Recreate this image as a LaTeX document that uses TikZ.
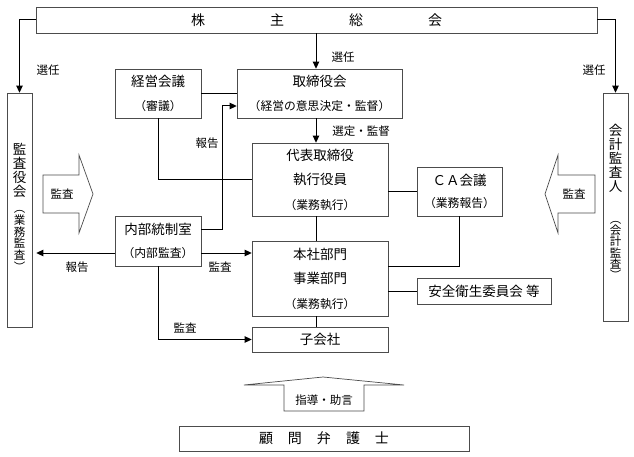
\documentclass[tikz,border=0pt]{standalone}
\usepackage{fontspec}
\setmainfont{Noto Sans CJK JP}
\usetikzlibrary{arrows.meta}

\tikzset{
  box/.style={draw=black!70, line width=0.7pt, inner sep=0pt, align=center,
    font=\fontsize{13.5}{23.5}\selectfont},
  vtext/.style={inner sep=0pt, align=center, font=\fontsize{13.5}{14}\selectfont},
  vsub/.style={inner sep=0pt, align=center, font=\fontsize{11.5}{11.8}\selectfont},
  lbl/.style={inner sep=0pt, font=\fontsize{11.5}{12}\selectfont},
  arr/.style={line width=1pt, -{Triangle[length=7pt,width=6.5pt]}},
  link/.style={line width=0.9pt},
  fat/.style={draw=black!70, line width=0.7pt, fill=white},
}
\newcommand{\paren}[1]{{\fontsize{11.8}{23.5}\selectfont #1}}

\begin{document}
\begin{tikzpicture}[x=1pt,y=-1pt]
  \useasboundingbox (0,0) rectangle (634,457);
  \coordinate (spine) at (316,0);

  % boxes
  \node[box, minimum width=561, minimum height=26, font=\fontsize{14}{16}\selectfont] (soukai) at (316.5,20)
    {株\hspace{65pt}主\hspace{65pt}総\hspace{65pt}会};
  \node[box, minimum width=25, minimum height=234] (kansayaku) at (19.5,210) {};
  \node[vtext] (kansayakuA) at (19.5,170) {監\\査\\役\\会};
  \node[vsub] (kansayakuB) at (19.5,241) {︵\\業\\務\\監\\査\\︶};
  \node[box, minimum width=25, minimum height=228] (kaikei) at (615.5,207) {};
  \node[vtext] (kaikeiA) at (615.5,158.5) {会\\計\\監\\査\\人};
  \node[vsub, font=\fontsize{11.5}{11.2}\selectfont] (kaikeiB) at (615.5,250.5) {︵\\会\\計\\監\\査\\︶};

  \node[box, minimum width=86, minimum height=49] (keiei) at (158,93.5) {経営会議\\\paren{（審議）}};
  \node[box, minimum width=165, minimum height=49] (torishimari) at (319.5,93.5)
    {取締役会\\\paren{（経営の意思決定・監督）}};
  \node[box, minimum width=136, minimum height=73, font=\fontsize{13.5}{24.5}\selectfont] (daihyo) at (320,179.5)
    {代表取締役\\執行役員\\\paren{（業務執行）}};
  \node[box, minimum width=85, minimum height=49, font=\fontsize{13.5}{22}\selectfont] (ca) at (459.5,191.5)
    {ＣＡ会議\\\paren{（業務報告）}};
  \node[box, minimum width=86, minimum height=50] (naibu) at (158,241) {内部統制室\\\paren{（内部監査）}};
  \node[box, minimum width=136, minimum height=75, font=\fontsize{13.5}{24.5}\selectfont] (honsha) at (320,278.5)
    {本社部門\\事業部門\\\paren{（業務執行）}};
  \node[box, minimum width=134, minimum height=26] (anzen) at (484,291) {安全衛生委員会 等};
  \node[box, minimum width=136, minimum height=25] (kogaisha) at (320,339.5) {子会社};
  \node[box, minimum width=290, minimum height=25, font=\fontsize{14}{16}\selectfont] (komon) at (324,438.5)
    {顧\hspace{15pt}問\hspace{15pt}弁\hspace{15pt}護\hspace{15pt}士};

  % big arrows
  \draw[fat] (43,175) -- (79,175) -- (79,155) -- (93,194) -- (79,233) -- (79,213) -- (43,213) -- cycle;
  \node[lbl] (kansaL) at (62,194) {監査};
  \draw[fat] (595,175) -- (558,175) -- (558,155) -- (545,194) -- (558,233) -- (558,213) -- (595,213) -- cycle;
  \node[lbl] (kansaR) at (574,194) {監査};
  \draw[fat] (284,411) -- (284,385) -- (244,385) -- (323,377) -- (404,385) -- (364,385) -- (364,411) -- cycle;
  \node[lbl] (shido) at (324,400) {指導・助言};

  % connectors
  \draw[arr] (soukai.west) -| (kansayaku.north);
  \draw[arr] (soukai.east) -| (kaikei.north);
  \draw[arr] (soukai.south -| spine) -- (torishimari.north -| spine);
  \draw[link] (keiei.east) -- (torishimari.west);
  \draw[arr] (torishimari.south -| spine) -- (daihyo.north -| spine);
  \draw[link] (keiei.south) |- (daihyo.west);
  \draw[arr] ([yshift=12pt]naibu.east) -- ++(21,0) |- ([yshift=-12.5pt]torishimari.west);
  \draw[link] (ca.west) -- (ca.west -| daihyo.east);
  \draw[link] (daihyo.south -| spine) -- (honsha.north -| spine);
  \draw[link] (ca.south) |- ([yshift=12.5pt]honsha.east);
  \draw[link] (anzen.west) -- (anzen.west -| honsha.east);
  \draw[link] (honsha.south -| spine) -- (kogaisha.north -| spine);
  \draw[arr, shorten >=4pt] ([yshift=-12pt]naibu.west) -- ([yshift=-12pt]naibu.west -| kansayaku.east);
  \draw[arr] ([yshift=-12pt]naibu.east) -- ([yshift=-12pt]naibu.east -| honsha.west);
  \draw[arr] (naibu.south) |- (kogaisha.west);

  % labels
  \node[lbl] (seninL) at (48,70) {選任};
  \node[lbl] (seninT) at (343,57) {選任};
  \node[lbl] (seninR) at (594,70) {選任};
  \node[lbl] (sentei) at (361,131) {選定・監督};
  \node[lbl] (hokokuU) at (207,143) {報告};
  \node[lbl] (hokokuL) at (77,267) {報告};
  \node[lbl] (kansaM) at (220,267) {監査};
  \node[lbl] (kansaK) at (185,328) {監査};
\end{tikzpicture}
\end{document}
